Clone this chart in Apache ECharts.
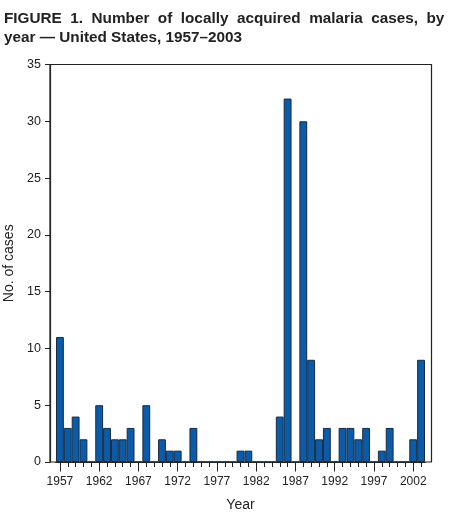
<!DOCTYPE html>
<html>
<head>
<meta charset="utf-8">
<script src="https://cdn.jsdelivr.net/npm/echarts@6/dist/echarts.min.js"></script>
<style>
	html, body { margin: 0; padding: 0; background: #fff; }
	#chart { width: 449px; height: 515px; }
</style>
</head>
<body>
<div id="chart"></div>
<script>
	var years = ['1957', '1958', '1959', '1960', '1961', '1962', '1963', '1964', '1965', '1966',
		'1967', '1968', '1969', '1970', '1971', '1972', '1973', '1974', '1975', '1976',
		'1977', '1978', '1979', '1980', '1981', '1982', '1983', '1984', '1985', '1986',
		'1987', '1988', '1989', '1990', '1991', '1992', '1993', '1994', '1995', '1996',
		'1997', '1998', '1999', '2000', '2001', '2002', '2003'];
	var cases = [11, 3, 4, 2, 0, 5, 3, 2, 2, 3,
		0, 5, 0, 2, 1, 1, 0, 3, 0, 0,
		0, 0, 0, 1, 1, 0, 0, 0, 4, 32,
		0, 30, 9, 2, 3, 0, 3, 3, 2, 3,
		0, 1, 3, 0, 0, 2, 9];
	var yTicks = [0, 5, 10, 15, 20, 25, 30, 35];

	var font = "'Liberation Sans', Arial, sans-serif";
	var ink = '#222';
	var chart = echarts.init(document.getElementById('chart'));

	var option = {
		animation: false,
		title: {
			// first line is justified in the original, hence the wider gaps
			text: 'FIGURE  1.  Number  of  locally  acquired  malaria  cases,  by\nyear \u2014 United States, 1957\u20132003',
			left: 4,
			top: 9,
			padding: 0,
			textStyle: { fontFamily: font, fontSize: 15.3, fontWeight: 'bold', color: ink, lineHeight: 19 }
		},
		// grid 0 = the frame and the y axis, grid 1 = the bars (a little inset, like the original)
		grid: [
			{ left: 50, right: 17.5, top: 64.5, bottom: 53, outerBoundsMode: 'none',
				show: true, borderColor: ink, borderWidth: 1.2 },
			{ left: 56, right: 24, top: 64.5, bottom: 53, outerBoundsMode: 'none' }
		],
		xAxis: [{
			gridIndex: 0, type: 'value', show: false, min: 0, max: 1
		}, {
			gridIndex: 1,
			type: 'category',
			position: 'bottom',
			data: years,
			axisLine: { show: true, lineStyle: { color: ink, width: 1.2 } },
			axisTick: { show: true, alignWithLabel: true, length: 5, interval: 0, lineStyle: { color: ink, width: 1 } },
			axisLabel: { show: false }
		}, {
			gridIndex: 1,
			type: 'category',
			position: 'bottom',
			data: years,
			name: 'Year',
			nameLocation: 'middle',
			nameGap: 36,
			nameTextStyle: { fontFamily: font, fontSize: 14, color: ink },
			axisLine: { show: true, lineStyle: { color: ink, width: 1.2 } },
			axisTick: { show: true, alignWithLabel: true, length: 9.5, interval: 4, lineStyle: { color: ink, width: 1 } },
			axisLabel: { show: true, interval: 4, margin: 14, fontFamily: font, fontSize: 12, color: ink }
		}],
		yAxis: [{
			gridIndex: 0,
			type: 'value',
			min: yTicks[0],
			max: yTicks[yTicks.length - 1],
			interval: 5,
			name: 'No. of cases',
			nameLocation: 'middle',
			nameGap: 32,
			nameTextStyle: { fontFamily: font, fontSize: 14, color: ink },
			axisLine: { show: true, lineStyle: { color: ink, width: 1.2 } },
			axisTick: { show: true, length: 5, lineStyle: { color: ink } },
			axisLabel: { margin: 9, fontFamily: font, fontSize: 12.5, color: ink },
			splitLine: { show: false }
		}, {
			gridIndex: 1,
			type: 'value',
			show: false,
			min: yTicks[0],
			max: yTicks[yTicks.length - 1]
		}],
		series: [{
			type: 'bar',
			data: cases,
			xAxisIndex: 1,
			yAxisIndex: 1,
			barCategoryGap: '0%',
			itemStyle: { color: '#0a5caa', borderColor: '#1c2a3a', borderWidth: 1 }
		}]
	};
	chart.setOption(option);
</script>
</body>
</html>
